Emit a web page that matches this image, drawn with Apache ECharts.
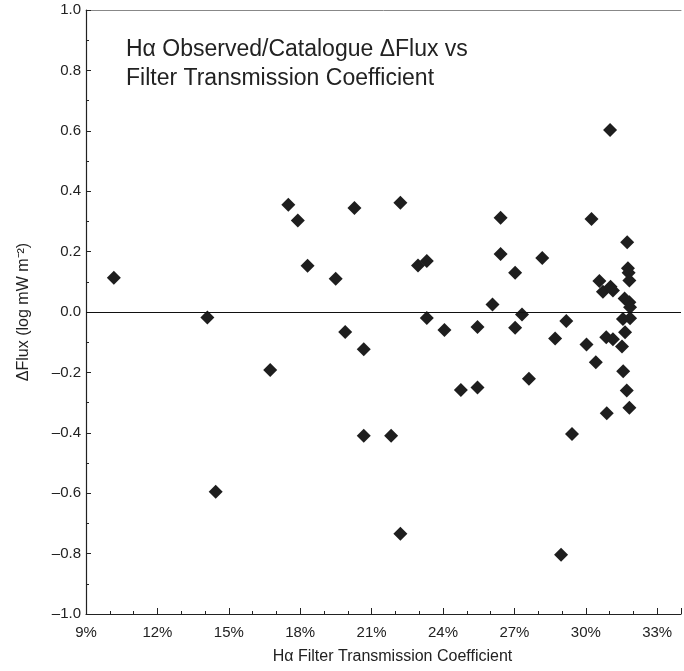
<!DOCTYPE html>
<html>
<head>
<meta charset="utf-8">
<script src="https://cdn.jsdelivr.net/npm/echarts@6/dist/echarts.min.js"></script>
<style>html,body{margin:0;padding:0;background:#fff}#c{width:684px;height:671px}</style>
</head>
<body>
<div id="c"></div>
<script>
var transmission = [10.17,14.1,14.45,16.74,17.5,17.9,18.31,19.49,19.89,20.28,20.67,20.67,21.82,22.21,22.21,22.95,23.32,23.32,24.06,24.75,25.45,25.45,26.08,26.42,26.42,27.03,27.03,27.32,27.61,28.17,28.71,28.96,29.18,29.42,30.03,30.24,30.42,30.57,30.72,30.86,30.88,31.02,31.04,31.14,31.14,31.52,31.56,31.57,31.63,31.65,31.72,31.74,31.77,31.8,31.83,31.83,31.83,31.86,31.86];
var deltaFlux = [0.113,-0.018,-0.595,-0.192,0.355,0.303,0.153,0.11,-0.066,0.344,-0.123,-0.41,-0.41,0.362,-0.734,0.154,0.169,-0.02,-0.06,-0.258,-0.05,-0.25,0.025,0.312,0.192,0.13,-0.052,-0.008,-0.221,0.179,-0.088,-0.804,-0.03,-0.404,-0.108,0.308,-0.166,0.103,0.067,-0.084,-0.335,0.603,0.084,0.071,-0.09,-0.114,-0.023,-0.196,0.045,-0.067,-0.26,0.231,0.145,0.13,0.104,0.032,-0.317,0.016,-0.021];
var xTicks = [9,12,15,18,21,24,27,30,33];
var yTicks = [-1.0,-0.8,-0.6,-0.4,-0.2,0.0,0.2,0.4,0.6,0.8,1.0];

var pts = transmission.map(function(x,i){return [x, deltaFlux[i]];});
var font = 'Liberation Sans, Arial, Helvetica, sans-serif';
var chart = echarts.init(document.getElementById('c'));
chart.setOption({
  animation:false,
  backgroundColor:'#fff',
  title:{
    text:'H\u03b1 Observed/Catalogue \u0394Flux vs\nFilter Transmission Coefficient',
    left:121, top:30,
    textStyle:{fontFamily:font, fontSize:23, fontWeight:'normal', color:'#222', lineHeight:29}
  },
  grid:{left:86, right:0, top:10, bottom:57},
  xAxis:[{
    type:'value', min:9, max:34, interval:3,
    name:'H\u03b1 Filter Transmission Coefficient', nameLocation:'middle', nameGap:35,
    nameTextStyle:{fontFamily:font, fontSize:16, color:'#222', padding:[0,0,0,18]},
    axisLine:{show:true, onZero:false, lineStyle:{color:'#222', width:1.2}},
    axisTick:{show:true, inside:true, length:6, lineStyle:{color:'#222'}},
    axisLabel:{fontFamily:font, fontSize:15, color:'#222', margin:11,
      formatter:function(v){return xTicks.indexOf(v)>=0 ? v+'%' : '';}},
    splitLine:{show:false}
  },{
    type:'value', min:9, max:34, interval:1, position:'bottom',
    axisLine:{show:false, onZero:false},
    axisTick:{show:true, inside:true, length:3, lineStyle:{color:'#222'}},
    axisLabel:{show:false}, splitLine:{show:false}
  },{
    type:'value', min:9, max:34, position:'top',
    axisLine:{show:true, onZero:false, lineStyle:{color:'#888', width:1}},
    axisTick:{show:false}, axisLabel:{show:false}, splitLine:{show:false}
  }],
  yAxis:{
    type:'value', min:-1, max:1, interval:0.2,
    name:'\u0394Flux (log mW m\u207b\u00b2)', nameLocation:'middle', nameGap:54,
    nameTextStyle:{fontFamily:font, fontSize:16, color:'#222'},
    axisLine:{show:true, onZero:false, lineStyle:{color:'#222', width:1.2}},
    axisTick:{show:true, inside:true, length:5, lineStyle:{color:'#222'}},
    minorTick:{show:true, splitNumber:2, length:3, lineStyle:{color:'#222'}},
    axisLabel:{fontFamily:font, fontSize:15, color:'#222', margin:5,
      formatter:function(v){
        var r = Math.round(v*10)/10;
        if (yTicks.indexOf(r)<0) return '';
        var s = Math.abs(r).toFixed(1);
        return r<0 ? '\u2013'+s : s;
      }},
    splitLine:{show:false}
  },
  series:[{
    type:'scatter', xAxisIndex:0, data:pts,
    symbol:'diamond', symbolSize:14,
    itemStyle:{color:'#1e1e1e', opacity:1},
    markLine:{
      silent:true, symbol:'none', label:{show:false},
      lineStyle:{color:'#111', width:1.2, type:'solid'},
      data:[{yAxis:0}]
    }
  }]
});
</script>
</body>
</html>
